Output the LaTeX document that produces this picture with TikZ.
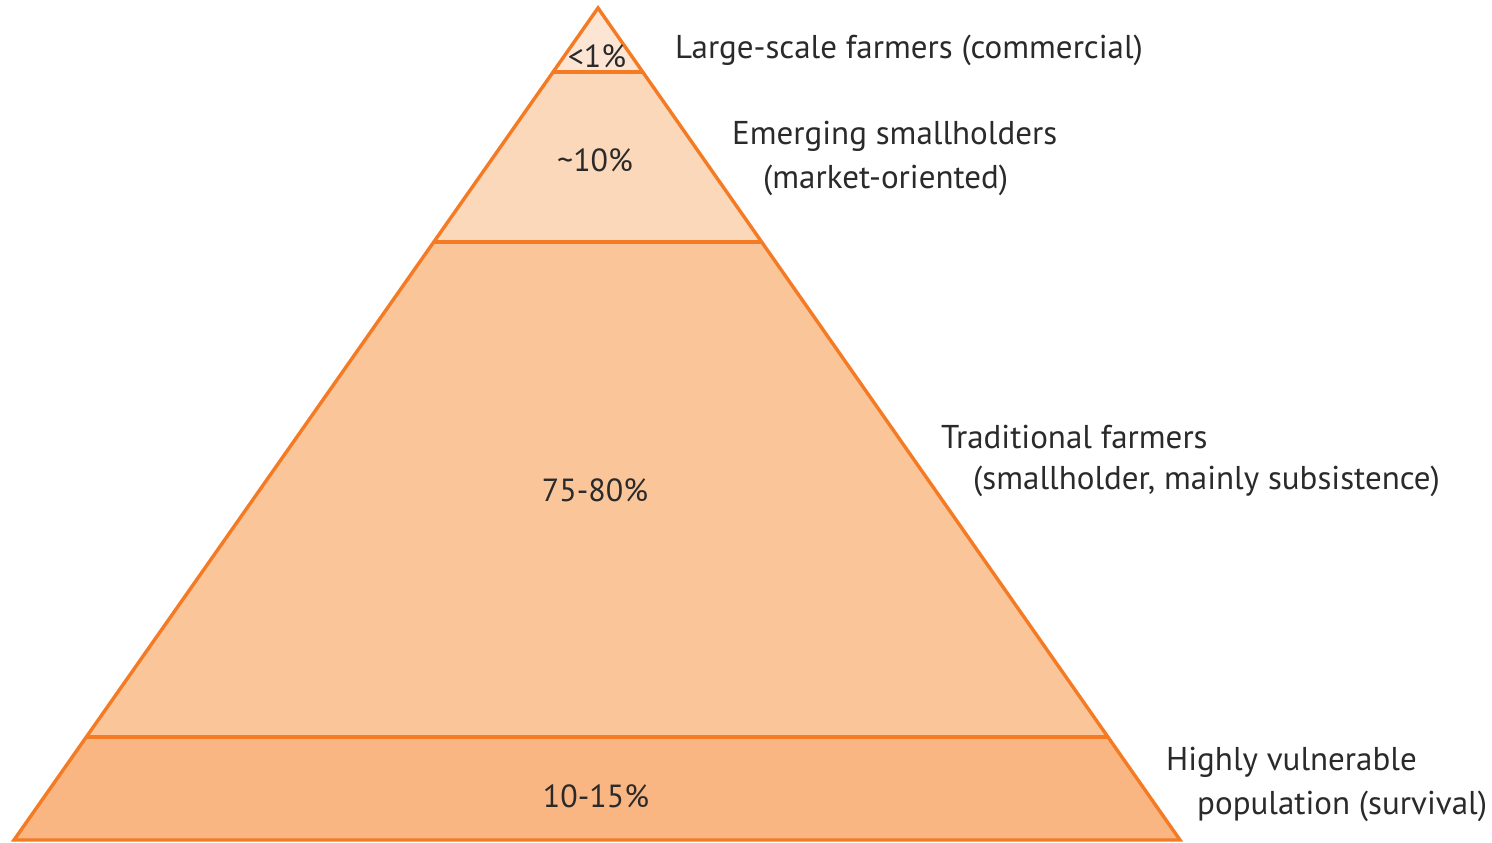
\documentclass[tikz,border=0pt]{standalone}
\usepackage{fontspec}
\setmainfont{PT Sans}
\definecolor{edge}{HTML}{F47A24}
\definecolor{bandA}{HTML}{FDE5D4}
\definecolor{bandB}{HTML}{FBD8BA}
\definecolor{bandC}{HTML}{FBC59A}
\definecolor{bandD}{HTML}{F9B682}
\definecolor{txt}{HTML}{2A2A2A}
\begin{document}
\begin{tikzpicture}[x=1pt,y=-1pt,
  band/.style={draw=edge,line width=3.4pt,line join=miter},
  pct/.style={font=\fontsize{32}{36}\selectfont,text=txt,inner sep=0pt},
  lab/.style={font=\fontsize{33}{36}\selectfont,text=txt,inner sep=0pt,anchor=west}]
\useasboundingbox (0,0) rectangle (1492,843);
% key points of the pyramid
\coordinate (apex) at (598,8);
\coordinate (l1) at (553,72);   \coordinate (r1) at (642,72);
\coordinate (l2) at (434,242);  \coordinate (r2) at (762,242);
\coordinate (l3) at (87,737);   \coordinate (r3) at (1107,737);
\coordinate (l4) at (14,840);   \coordinate (r4) at (1180,840);
\fill[bandA] (apex) -- (r1) -- (l1) -- cycle;
\fill[bandB] (l1) -- (r1) -- (r2) -- (l2) -- cycle;
\fill[bandC] (l2) -- (r2) -- (r3) -- (l3) -- cycle;
\fill[bandD] (l3) -- (r3) -- (r4) -- (l4) -- cycle;
\draw[band] (apex) -- (r4) -- (l4) -- cycle;
\draw[band] (l1) -- (r1);
\draw[band] (l2) -- (r2);
\draw[band] (l3) -- (r3);
% percentages
\node[pct] (p1) at (597,56) {<1\%};
\node[pct] (p2) at (595,160) {\textasciitilde 10\%};
\node[pct] (p3) at (595,490) {75-80\%};
\node[pct] (p4) at (596,796) {10-15\%};
% labels
\node[lab] (t1) at (675,50) {Large-scale farmers (commercial)};
\node[lab] (t2a) at (732,136) {Emerging smallholders};
\node[lab] (t2b) at (763,180) {(market-oriented)};
\node[lab] (t3a) at (941,437) {Traditional farmers};
\node[lab] (t3b) at (973,481) {(smallholder, mainly subsistence)};
\node[lab] (t4a) at (1166,762) {Highly vulnerable};
\node[lab] (t4b) at (1197,806) {population (survival)};
\end{tikzpicture}
\end{document}
